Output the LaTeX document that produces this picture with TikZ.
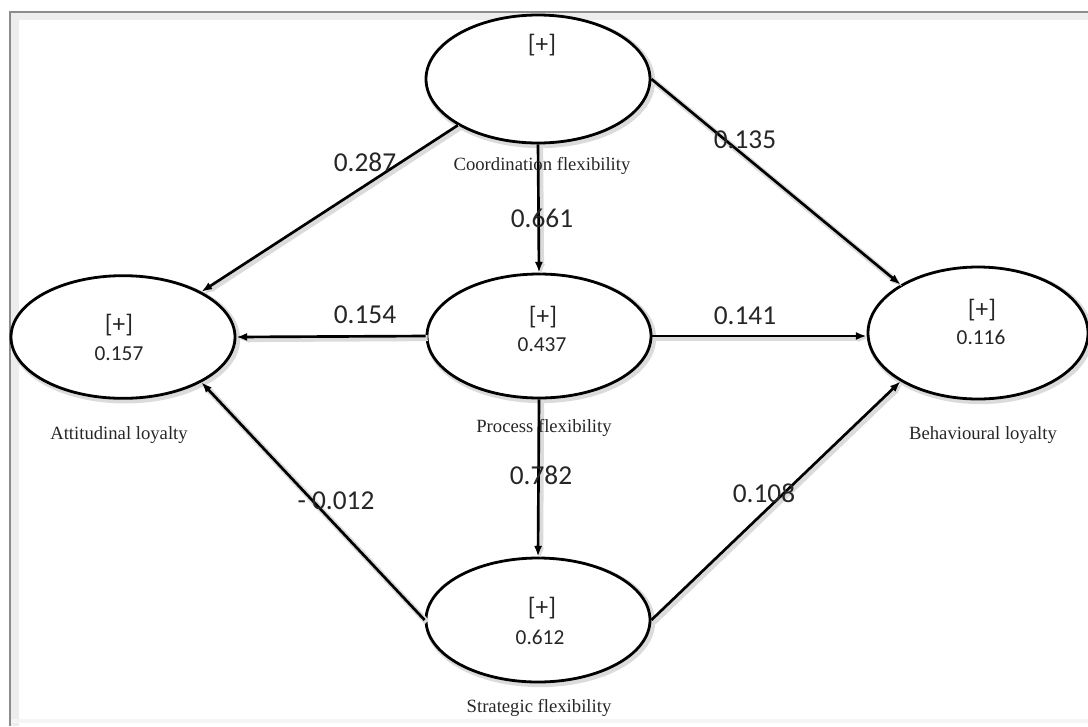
\documentclass[tikz,border=0pt]{standalone}
\usepackage{fontspec}
\setmainfont{Liberation Serif}
\newfontfamily\numfont{Carlito}
\usetikzlibrary{arrows.meta,shapes.geometric}
\begin{document}
\begin{tikzpicture}[x=0.75pt,y=-0.75pt,
  softshade/.style={preaction={draw, black!14, line width=4.5pt, transform canvas={shift={(1.6pt,-1.6pt)}}}},
  lv/.style={ellipse, draw, fill=white, line width=2.1pt, minimum width=168pt, minimum height=93pt, inner sep=0pt, softshade},
  plusl/.style={font=\numfont\fontsize{19}{22}\selectfont, inner sep=0pt, text=black!85},
  rsq/.style={font=\numfont\fontsize{16}{19}\selectfont, inner sep=0pt, text=black!85},
  coef/.style={font=\numfont\fontsize{20.5}{24}\selectfont, inner sep=0pt, text=black!85},
  lvname/.style={font=\fontsize{14}{16}\selectfont, inner sep=0pt, text=black!85},
  conn/.style={line width=2pt, -{Latex[length=8pt,width=6pt]}, softshade},
]
\useasboundingbox (0,0) rectangle (1088,726);
% frame
\fill[black!7] (11,13) rectangle (1088,20);
\fill[black!7] (11,13) rectangle (19,726);
\draw[black!4, line width=3pt] (11,721) -- (1088,721);
\draw[black!45, line width=2.2pt] (10,726) -- (10,12) -- (1088,12);

% latent variables
\node[lv, minimum height=96pt] (coord) at (538,79) {};
\node[lv] (proc) at (539,336) {};
\node[lv] (strat) at (538,620) {};
\node[lv, minimum height=92pt] (att) at (123,337) {};
\node[lv, minimum width=165pt, minimum height=99pt] (beh) at (978,333) {};

% inner texts
\node[plusl] (coordp) at (542,45) {[+]};
\node[plusl] (procp) at (543,317) {[+]};
\node[rsq] (procr) at (542,345) {0.437};
\node[plusl] (stratp) at (542,608) {[+]};
\node[rsq] (stratr) at (540,637) {0.612};
\node[plusl] (attp) at (119,325) {[+]};
\node[rsq] (attr) at (119,354) {0.157};
\node[plusl] (behp) at (982,310) {[+]};
\node[rsq] (behr) at (981,337) {0.116};

% connectors
\draw[conn] (coord.210) -- (att.30);
\draw[conn] (coord.east) -- (beh.148);
\draw[conn] (coord.south) -- (proc.north);
\draw[conn] (proc.west) -- (att.east);
\draw[conn] (proc.east) -- (proc.east -| beh.west);
\draw[conn] (proc.south) -- (strat.north);
\draw[conn] (strat.west) -- (att.-30);
\draw[conn] (strat.east) -- (beh.212);

% names
\node[lvname] (coordn) at (542,166) {Coordination flexibility};
\node[lvname] (procn) at (544,428) {Process flexibility};
\node[lvname] (stratn) at (539,708) {Strategic flexibility};
\node[lvname] (attn) at (119,435) {Attitudinal loyalty};
\node[lvname] (behn) at (983,435) {Behavioural loyalty};

% coefficients
\node[coef] (c1) at (365,162) {0.287};
\node[coef] (c2) at (542,218) {0.661};
\node[coef] (c3) at (745,140) {0.135};
\node[coef] (c4) at (745,316) {0.141};
\node[coef] (c5) at (365,315) {0.154};
\node[coef] (c6) at (541,475) {0.782};
\node[coef] (c7) at (336,501) {- 0.012};
\node[coef] (c8) at (764,493) {0.108};
\end{tikzpicture}
\end{document}
